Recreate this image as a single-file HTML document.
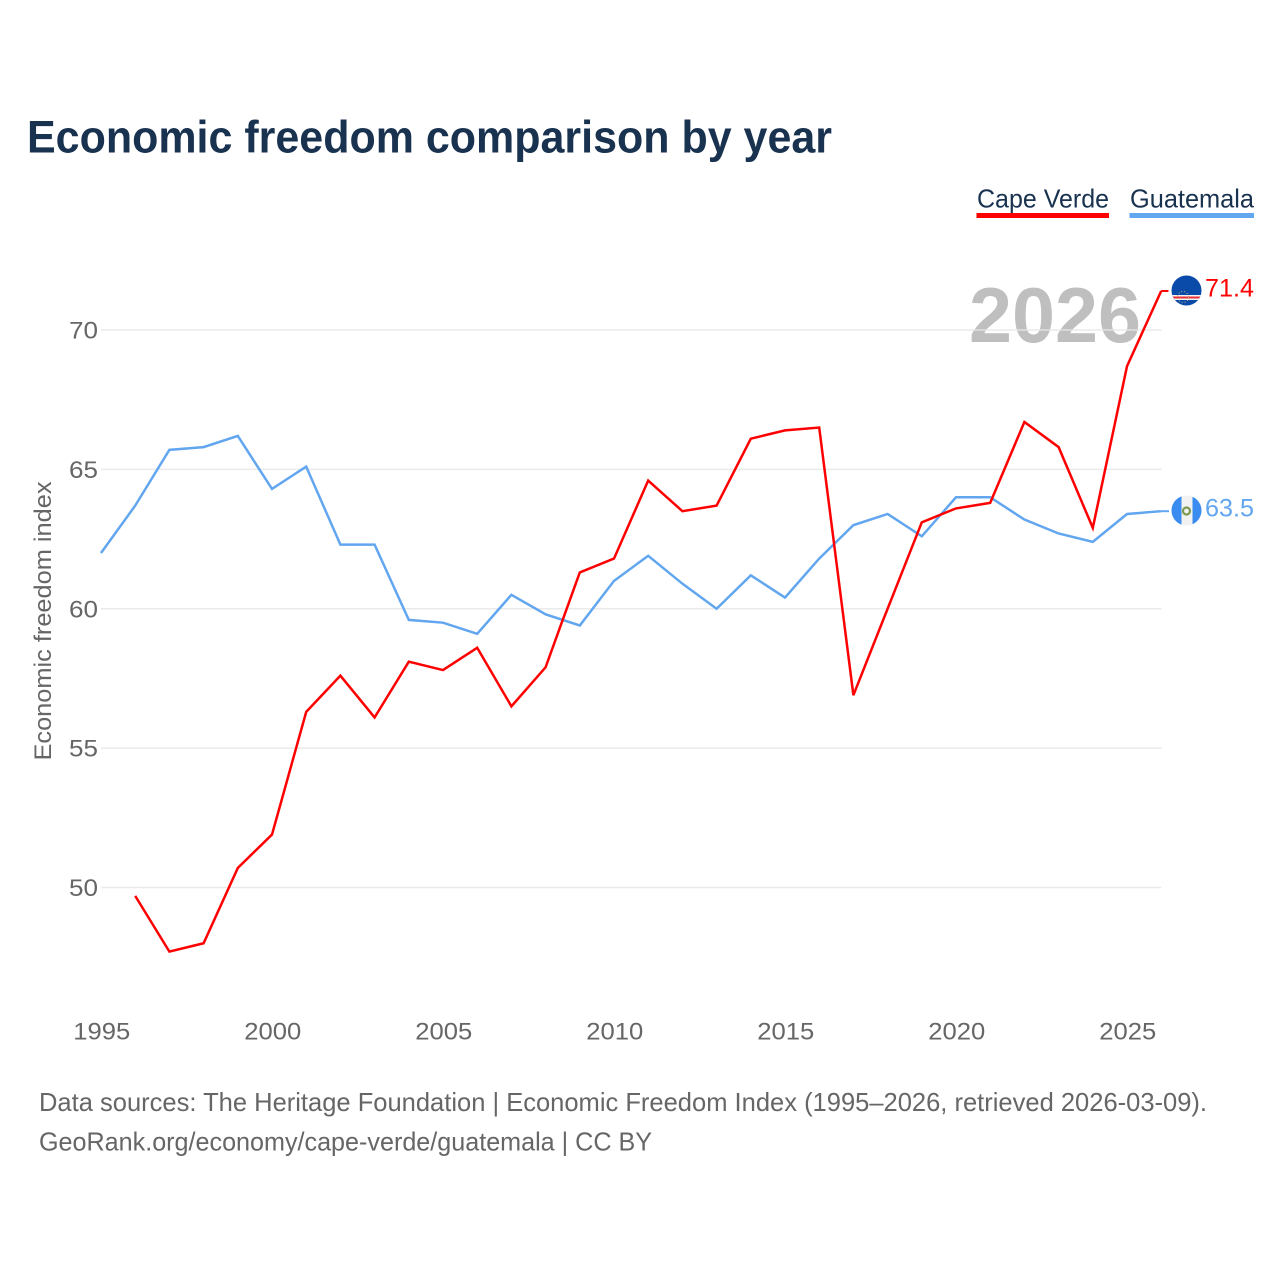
<!DOCTYPE html>
<html lang="en">
<head>
<meta charset="utf-8">
<title>Economic freedom comparison by year</title>
<style>
html,body{margin:0;padding:0;background:#fff;}
svg{display:block;}
text{font-family:"Liberation Sans",sans-serif;}
</style>
</head>
<body>
<svg id="chart" xmlns="http://www.w3.org/2000/svg" width="1280" height="1280" viewBox="0 0 1280 1280">
  <rect width="1280" height="1280" fill="#fff"/>
  <text x="27" y="152.500" font-size="45" font-weight="700" fill="#18324f" textLength="805" lengthAdjust="spacingAndGlyphs">Economic freedom comparison by year</text>

  <g>
    <text x="977" y="207.500" font-size="26" fill="#18324f" textLength="132" lengthAdjust="spacingAndGlyphs">Cape Verde</text>
    <rect x="976.500" y="213" width="132.500" height="5" fill="#ff0000"/>
  </g>
  <g>
    <text x="1130" y="207.500" font-size="26" fill="#18324f" textLength="124" lengthAdjust="spacingAndGlyphs">Guatemala</text>
    <rect x="1129.500" y="213" width="124.500" height="5" fill="#62a6ef"/>
  </g>

  <text x="1141" y="342" text-anchor="end" font-size="78" font-weight="700" fill="#bfbfbf" textLength="172" lengthAdjust="spacingAndGlyphs">2026</text>
  <g id="grid"></g>
  <g id="yticks"></g>
  <g id="xticks"></g>
  <text transform="translate(51,621) rotate(-90)" text-anchor="middle" font-size="24.500" fill="#666" textLength="279" lengthAdjust="spacingAndGlyphs">Economic freedom index</text>
  <g id="series"></g>

  <defs>
    <clipPath id="clip-cv"><circle cx="1186.500" cy="290.500" r="15"/></clipPath>
    <clipPath id="clip-gt"><circle cx="1186.500" cy="510.500" r="15"/></clipPath>
  </defs>
  <g clip-path="url(#clip-cv)">
    <rect x="1171" y="275" width="31" height="31" fill="#0a4aa8"/>
    <rect x="1171" y="295" width="31" height="5" fill="#f4f4f4"/>
    <rect x="1171" y="296.500" width="31" height="2" fill="#e8303a"/>
    <circle cx="1183" cy="297" r="5.500" fill="none" stroke="#c9b96a" stroke-width="1" stroke-dasharray="1 2"/>
  </g>
  <g clip-path="url(#clip-gt)">
    <rect x="1171" y="495" width="31" height="31" fill="#f2f2f2"/>
    <rect x="1171" y="495" width="10.500" height="31" fill="#3a8cf0"/>
    <rect x="1192.500" y="495" width="10" height="31" fill="#3a8cf0"/>
    <circle cx="1186.500" cy="511" r="3.500" fill="none" stroke="#7a9a50" stroke-width="2.200"/>
  </g>
  <text x="1205" y="296.500" font-size="25" fill="#ff0000" textLength="49" lengthAdjust="spacingAndGlyphs">71.4</text>
  <text x="1205" y="516.500" font-size="25" fill="#62a6ef" textLength="49" lengthAdjust="spacingAndGlyphs">63.5</text>

  <text x="39" y="1111" font-size="26" fill="#666" textLength="1168" lengthAdjust="spacingAndGlyphs">Data sources: The Heritage Foundation | Economic Freedom Index (1995–2026, retrieved 2026-03-09).</text>
  <text x="39" y="1150.500" font-size="26" fill="#666" textLength="613" lengthAdjust="spacingAndGlyphs">GeoRank.org/economy/cape-verde/guatemala | CC BY</text>
</svg>
<script>
const years = [1995,1996,1997,1998,1999,2000,2001,2002,2003,2004,2005,2006,2007,2008,2009,2010,2011,2012,2013,2014,2015,2016,2017,2018,2019,2020,2021,2022,2023,2024,2025,2026];
const capeVerde = [null,49.7,47.7,48.0,50.7,51.9,56.3,57.6,56.1,58.1,57.8,58.6,56.5,57.9,61.3,61.8,64.6,63.5,63.7,66.1,66.4,66.5,56.9,60.0,63.1,63.6,63.8,66.7,65.8,62.9,68.7,71.4];
const guatemala = [62.0,63.7,65.7,65.8,66.2,64.3,65.1,62.3,62.3,59.6,59.5,59.1,60.5,59.8,59.4,61.0,61.9,60.9,60.0,61.2,60.4,61.8,63.0,63.4,62.6,64.0,64.0,63.2,62.7,62.4,63.4,63.5];
const yTickLabels = [50,55,60,65,70];
const xTickLabels = [1995,2000,2005,2010,2015,2020,2025];

const NS = 'http://www.w3.org/2000/svg';
const xScale = function (year) { return 101 + (year - 1995) * (1060.2 / 31); };
const yScale = function (value) { return 887.5 - (value - 50) * (557.5 / 20); };

function make(parent, tag, attrs, text) {
  const el = document.createElementNS(NS, tag);
  Object.keys(attrs).forEach(function (k) { el.setAttribute(k, attrs[k]); });
  if (text !== undefined) el.textContent = text;
  parent.appendChild(el);
  return el;
}

const gridGroup = document.getElementById('grid');
const yGroup = document.getElementById('yticks');
const xGroup = document.getElementById('xticks');
const seriesGroup = document.getElementById('series');

yTickLabels.forEach(function (t) {
  const line = make(gridGroup, 'line', {x1: 101, x2: 1161.5, y1: yScale(t), y2: yScale(t), stroke: '#e6e6e6', 'stroke-width': 1.5, 'stroke-opacity': 0.85});
  
  
  const label = make(yGroup, 'text', {x: 98, y: yScale(t) + 8.5, 'text-anchor': 'end', 'font-size': 24.5, fill: '#666', textLength: 29, lengthAdjust: 'spacingAndGlyphs'}, String(t));
  
  
});

xTickLabels.forEach(function (t) {
  const label = make(xGroup, 'text', {x: xScale(t) + 0.8, y: 1039.5, 'text-anchor': 'middle', 'font-size': 24.5, fill: '#666', textLength: 57, lengthAdjust: 'spacingAndGlyphs'}, String(t));
  
  
});

function buildPath(values) {
  let d = '';
  let started = false;
  values.forEach(function (v, i) {
    if (v === null) { started = false; return; }
    d += (started ? 'L' : 'M') + xScale(years[i]).toFixed(2) + ' ' + yScale(v).toFixed(2);
    started = true;
  });
  return d;
}

const guatemalaLine = make(seriesGroup, 'path', {d: buildPath(guatemala), fill: 'none', stroke: '#62a6ef', 'stroke-width': 2.5, 'stroke-linejoin': 'miter'});



const capeVerdeLine = make(seriesGroup, 'path', {d: buildPath(capeVerde), fill: 'none', stroke: '#ff0000', 'stroke-width': 2.5, 'stroke-linejoin': 'miter'});



const lastIdx = years.length - 1;
const cvConnector = make(seriesGroup, 'line', {x1: xScale(years[lastIdx]), x2: 1168.5, y1: yScale(capeVerde[lastIdx]), y2: yScale(capeVerde[lastIdx]), stroke: '#ff0000', 'stroke-width': 2});



const gtConnector = make(seriesGroup, 'line', {x1: xScale(years[lastIdx]), x2: 1169, y1: yScale(guatemala[lastIdx]), y2: yScale(guatemala[lastIdx]), stroke: '#62a6ef', 'stroke-width': 2});


</script>
</body>
</html>
